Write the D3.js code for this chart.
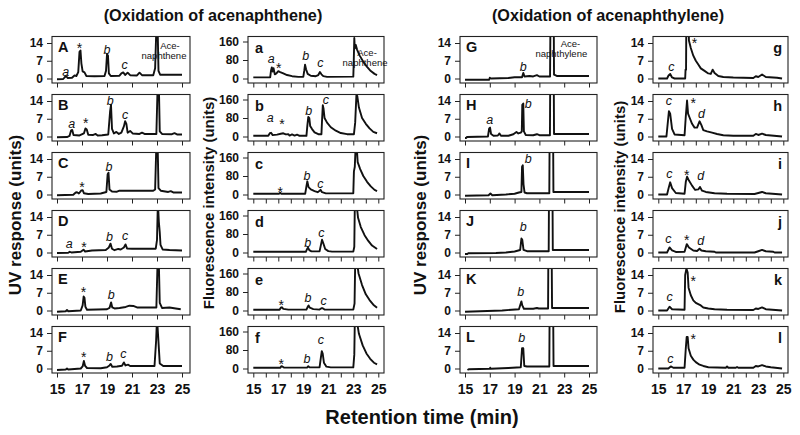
<!DOCTYPE html>
<html><head><meta charset="utf-8">
<script src="https://cdn.jsdelivr.net/npm/d3@7"></script>
<style>body{margin:0;background:#fff}svg{display:block;font-family:"Liberation Sans",Arial,Helvetica,sans-serif}</style>
</head><body><svg id="c" width="800" height="435"></svg>
<script>
// ---------- data ----------
const timeTicks = [15,17,19,21,23,25];
const timeMinor = [15,16,17,18,19,20,21,22,23,24,25];
const uvTicks = [0,7,14];
const flTicks = [0,80,160];
const titles = ["(Oxidation of acenaphthene)", "(Oxidation of acenaphthylene)"];
const yTitles = ["UV response (units)", "Fluorescence intensity (units)", "UV response (units)", "Fluorescence intensity (units)"];
const xTitle = "Retention time (min)";
const panelIds = [["A","B","C","D","E","F"],["a","b","c","d","e","f"],["G","H","I","J","K","L"],["g","h","i","j","k","l"]];

// chromatograms: [retention time (min), response]
const trA = [[15,-0.3],[15.5,-0.2],[15.6,0.4],[15.72,1.0],[15.85,0.2],[16.2,0.3],[16.4,1.2],[16.55,1.0],[16.7,2.5],[16.8,10.5],[16.88,11],[16.95,6],[17.05,2.8],[17.2,2.4],[17.35,1.0],[18,0.9],[18.8,1.0],[18.92,3],[19,9.5],[19.08,9],[19.15,2],[19.3,1.0],[20,1.1],[20.15,2],[20.3,2.4],[20.45,1.4],[20.65,2.3],[20.85,1.3],[21.4,1.2],[21.6,2.3],[21.8,1.3],[22.7,1.3],[22.85,4],[22.95,20],[23.05,20],[23.12,3],[23.25,1.5],[25,1.5]];
const trB = [[15,-0.3],[15.8,-0.2],[16,0.2],[16.12,2.3],[16.22,2.6],[16.32,0.6],[16.8,0.4],[17.15,1.2],[17.28,3.2],[17.38,2.8],[17.5,0.7],[17.9,0.6],[18.1,1.0],[18.25,0.4],[18.6,0.5],[19.1,0.8],[19.25,10],[19.32,12.5],[19.4,3],[19.55,1.2],[19.75,1.8],[19.95,1.0],[20.15,1.5],[20.35,4],[20.45,6],[20.55,5],[20.65,1.5],[20.85,2.2],[21.05,1.2],[21.6,1.0],[21.8,1.5],[22,1.0],[22.95,1.0],[23.05,20],[23.15,20],[23.22,2],[23.4,1.0],[24.2,0.9],[24.4,1.3],[24.6,0.8],[25,0.8]];
const trC = [[15,-0.3],[16.3,-0.1],[16.5,0.8],[16.6,0.9],[16.75,0.4],[16.95,1.6],[17.05,1.7],[17.15,0.5],[17.5,0.2],[18.5,0.4],[18.95,1.0],[19.05,8],[19.12,8.6],[19.2,2],[19.4,1.2],[19.8,1.1],[20,1.5],[22.7,1.5],[22.85,2],[22.95,20],[23.05,20],[23.12,2.5],[23.3,1.5],[23.9,1.0],[24.1,1.3],[24.3,0.8],[25,0.8]];
const trD = [[15,-0.2],[15.9,-0.1],[16.02,0.3],[16.15,0],[16.9,0.3],[17.12,1.1],[17.25,0.4],[17.8,0.8],[18.9,1.0],[19.15,2],[19.28,3.5],[19.4,1.5],[19.6,0.9],[19.9,1.4],[20.1,1.2],[20.35,2],[20.48,3.2],[20.6,1.6],[21,1.5],[22.9,1.5],[23,5],[23.07,20],[23.15,12],[23.22,8],[23.28,3],[23.45,1.2],[24,1.0],[25,0.8]];
const trE = [[15,-0.5],[15.7,-0.3],[15.8,0.2],[15.9,-0.3],[16.9,0],[17.05,2],[17.13,5.5],[17.2,5],[17.27,1.5],[17.4,0.3],[19,0.5],[19.2,1.0],[19.33,3.2],[19.42,1.2],[19.6,0.8],[20,1.0],[20.5,1.4],[20.8,1.9],[21.1,1.8],[21.4,1.2],[22.95,1.2],[23.05,20],[23.15,18],[23.22,3],[23.4,1.0],[24,1.2],[24.5,0.8],[24.9,0.5]];
const trF = [[15,-0.6],[15.7,-0.4],[15.8,0],[15.9,-0.4],[16.9,0],[17.05,0.8],[17.15,3],[17.25,1.0],[17.4,0.2],[18.5,0.1],[19,0.5],[19.2,1.2],[19.3,1.8],[19.42,0.7],[19.8,0.8],[20.2,1.1],[20.35,2.4],[20.48,1.2],[20.7,1.5],[20.85,1.0],[22.8,1.0],[22.93,11],[23,20],[23.1,12],[23.22,2],[23.5,1.0],[25,1.0]];
const tra = [[15,5],[16.35,5],[16.42,35],[16.48,48],[16.55,30],[16.62,45],[16.72,18],[16.85,22],[17,32],[17.15,28],[17.4,22],[17.7,15],[18.1,10],[18.6,7],[19,7],[19.08,35],[19.14,60],[19.22,40],[19.35,20],[19.6,12],[20,10],[20.2,15],[20.33,28],[20.45,18],[20.6,10],[20.9,7],[23,8],[23.03,60],[23.08,175],[23.12,130],[23.2,145],[23.3,125],[23.5,100],[23.8,72],[24.1,50],[24.4,32],[24.7,20],[24.9,15]];
const trb = [[15,3],[16.2,3],[16.32,14],[16.42,16],[16.55,6],[16.9,8],[17.2,12],[17.4,14],[17.6,9],[17.8,10],[17.9,4],[18.1,9],[18.3,4],[18.5,8],[18.7,3],[19.25,3],[19.32,45],[19.4,85],[19.48,80],[19.55,45],[19.7,32],[19.9,18],[20.2,10],[20.45,10],[20.5,70],[20.56,135],[20.62,120],[20.7,80],[20.9,60],[21.2,40],[21.6,25],[22,15],[22.5,10],[23.05,10],[23.15,60],[23.25,180],[23.32,175],[23.45,125],[23.7,80],[24,55],[24.3,35],[24.6,20],[24.9,14]];
const trc = [[15,3],[17.05,3],[17.15,7],[17.25,3],[19.15,3],[19.25,35],[19.32,57],[19.42,32],[19.6,22],[19.9,15],[20.15,10],[20.3,16],[20.38,20],[20.5,10],[20.8,5],[23,5],[23.05,100],[23.12,120],[23.18,200],[23.28,200],[23.35,140],[23.55,110],[23.8,80],[24.1,55],[24.4,35],[24.7,20],[24.9,15]];
const trd = [[15,3],[19.2,3],[19.3,15],[19.38,21],[19.48,10],[19.65,5],[20.3,5],[20.42,35],[20.5,55],[20.6,40],[20.75,15],[21,6],[21.3,4],[23,4],[23.08,25],[23.12,200],[23.28,200],[23.38,150],[23.6,110],[23.9,75],[24.2,50],[24.5,30],[24.9,15]];
const tre = [[15,3],[17.1,3],[17.2,12],[17.28,14],[17.4,7],[17.8,4],[19.25,4],[19.35,15],[19.42,22],[19.52,12],[19.8,6],[20.3,4],[20.45,10],[20.55,10],[20.7,4],[23,4],[23.1,30],[23.15,200],[23.32,200],[23.42,160],[23.7,110],[24,70],[24.3,45],[24.6,25],[24.9,12]];
const trf = [[15,3],[17.15,3],[17.25,10],[17.35,8],[17.45,4],[19.3,4],[19.4,10],[19.5,5],[20.3,5],[20.4,45],[20.48,75],[20.55,65],[20.65,25],[20.85,8],[21.2,5],[23,5],[23.08,60],[23.12,200],[23.3,200],[23.45,150],[23.75,100],[24.05,65],[24.35,42],[24.65,25],[24.9,18]];
const trG = [[15,-0.5],[16.95,-0.5],[17,0.3],[17.1,0],[18.5,0.2],[19,0.5],[19.6,0.5],[19.7,2.2],[19.8,0.8],[20.2,1.0],[20.5,0.8],[20.8,1.3],[21,0.8],[21.86,0.8],[21.9,30],[22.15,30],[22.18,1.5],[22.4,1.0],[25,1.0]];
const trH = [[15,-0.6],[15.1,-0.6],[15.15,-0.2],[16.85,0],[16.95,3.2],[17.02,3.5],[17.1,1],[17.3,0.3],[17.65,0.4],[17.78,1.2],[17.9,0.3],[18.5,0.3],[18.9,0.9],[19.15,1.8],[19.3,1.2],[19.5,1.5],[19.58,2],[19.62,12.5],[19.7,13],[19.75,2],[19.9,0.6],[20.5,0.5],[20.8,0.9],[21,0.5],[21.85,0.5],[21.88,30],[22.15,30],[22.18,1],[25,1.0]];
const trI = [[15,-0.5],[16.9,-0.3],[17.05,0.4],[17.2,-0.3],[18.3,0],[19,0.3],[19.35,0.8],[19.55,1.0],[19.6,11],[19.66,11.5],[19.72,4],[19.8,0.8],[20,0.5],[21.8,0.5],[21.83,30],[22.1,30],[22.13,1],[25,1.0]];
const trJ = [[15,-0.6],[15.2,-0.6],[15.25,-0.3],[17.5,-0.2],[18.3,0],[19,0.4],[19.45,1.0],[19.55,5.5],[19.62,5],[19.72,1],[20,0.5],[21.75,0.5],[21.78,30],[22.05,30],[22.08,1],[25,1.0]];
const trK = [[15,-0.5],[18,0],[19.35,0.5],[19.55,3.6],[19.62,2],[19.75,0.7],[20.5,0.7],[20.8,1.0],[20.95,0.8],[21.7,0.8],[21.73,30],[21.98,30],[22.02,1],[25,1.0]];
const trL = [[15.2,-0.6],[15.3,-0.3],[17,-0.1],[17.03,0.3],[17.08,-0.1],[18.5,0.2],[19.5,0.5],[19.6,8],[19.7,8],[19.78,1],[20,0.8],[21.8,0.8],[21.83,30],[22.1,30],[22.14,1],[25,1.0]];
const trg = [[15,0],[15.7,0],[15.82,1.2],[15.95,1.8],[16.1,0.4],[16.3,0],[17.15,0],[17.18,3.5],[17.22,3.5],[17.25,30],[17.4,30],[17.45,15],[17.6,12],[17.8,9],[18,7],[18.2,5.5],[18.4,4],[18.7,3],[19,2],[19.2,1.8],[19.35,3.5],[19.5,2.2],[19.8,1.0],[20.2,0.6],[21,0.4],[22.6,0.2],[22.8,0.9],[23,0.6],[23.3,1.6],[23.6,0.6],[24.5,0.3],[24.9,0]];
const trh = [[15,0],[15.65,0],[15.75,5],[15.85,10],[15.95,9],[16.1,3],[16.3,0.8],[17.1,0.5],[17.2,8],[17.3,14.2],[17.38,9],[17.5,7.5],[17.7,5],[17.9,3.5],[18.1,3.5],[18.3,6],[18.45,4.5],[18.6,2.5],[18.9,2],[19.3,1.5],[19.7,1],[20.2,0.5],[21,0.3],[22.6,0.3],[22.8,1],[23,0.6],[23.3,1.1],[23.6,0.6],[24.9,0]];
const tri = [[15,0],[15.7,0],[15.85,3],[15.95,4.8],[16.1,2.5],[16.4,0.6],[17.1,0.3],[17.2,5],[17.3,7],[17.45,5.5],[17.7,3.5],[17.95,1.8],[18.2,2],[18.33,3],[18.5,1.5],[18.8,1],[19.5,0.5],[20.5,0.3],[22.7,0.2],[23,0.6],[23.3,1],[23.6,0.5],[24.9,0]];
const trj = [[15,0],[15.7,0],[15.9,2],[16.1,0.8],[16.4,0.2],[17.1,0.3],[17.28,3.3],[17.45,2],[17.8,0.8],[18.1,0.6],[18.3,1.5],[18.45,0.8],[18.8,0.5],[19.5,0.3],[19.6,0],[22.7,0],[23,0.5],[23.3,1],[23.6,0.5],[24.2,0.3],[24.3,0],[24.9,0]];
const trk = [[15,0],[15.7,0],[15.9,1.5],[16.1,0.5],[17.1,0.3],[17.15,14],[17.25,16.5],[17.35,15],[17.42,9],[17.6,6],[17.8,4],[18,3],[18.2,2.5],[18.4,2],[18.6,1.2],[19,0.8],[19.5,0.5],[20.5,0.3],[22.6,0.2],[22.8,0.8],[23,0.6],[23.3,1.2],[23.6,0.5],[24.9,0]];
const trl = [[15,0],[15.8,0],[16,0.8],[16.2,0.3],[17.1,0.3],[17.2,8],[17.27,12.4],[17.35,12.4],[17.42,8],[17.6,5],[17.8,3.5],[18,2.5],[18.3,1.5],[18.6,1.0],[19,0.5],[20.4,0.3],[20.5,0.8],[20.6,0.3],[21.2,0.3],[21.3,0.6],[21.4,0.3],[22.6,0.3],[22.8,1],[23,0.8],[23.3,1.3],[23.6,0.8],[24,0.5],[24.9,0]];

// peak annotations: [text, time, response at label centre]
const labA = [["a",15.69,2.45],["*",16.8,13.2],["b",19.0,11.55],["c",20.4,5.0],["Ace-",24.04,12.9,"n"],["naphthene",23.56,8.9,"n"]];
const labB = [["a",16.17,4.7],["*",17.3,6.4],["b",19.25,14.2],["c",20.45,8.3]];
const labC = [["*",17.0,4.2],["b",19.15,10.9]];
const labD = [["a",15.98,3.2],["*",17.15,3.5],["b",19.2,6.2],["c",20.45,6.2]];
const labE = [["*",17.12,8.4],["b",19.34,6.2]];
const labF = [["*",17.14,5.8],["b",19.2,4.8],["c",20.3,5.6]];
const laba = [["a",16.44,79],["*",17.03,59],["b",19.2,101],["c",20.36,62],["Ace-",24.1,108,"n"],["naphthene",23.94,65,"n"]];
const labb = [["a",16.36,76],["*",17.3,69],["b",19.43,114],["c",20.8,153]];
const labc = [["*",17.16,23],["b",19.3,83],["c",20.36,41]];
const labd = [["b",19.35,42],["c",20.45,80]];
const labe = [["*",17.24,38],["b",19.37,56],["c",20.63,38]];
const labf = [["*",17.24,32],["b",19.3,42],["c",20.4,119]];
const labG = [["b",19.7,4.7],["Ace-",23.5,13.6,"n"],["naphthylene",22.77,9.6,"n"]];
const labH = [["a",17.0,6.4],["b",20.1,12.9]];
const labI = [["b",20.1,14.2]];
const labJ = [["b",19.7,10.1]];
const labK = [["b",19.5,7.5]];
const labL = [["b",19.57,12.3]];
const labg = [["c",16.05,4.2],["*",17.9,15]];
const labh = [["c",15.85,13.6],["*",17.8,14.2],["d",18.45,9.0]];
const labi = [["c",15.88,7.7],["*",17.27,9.0],["d",18.4,7.3]];
const labj = [["c",15.8,5.1],["*",17.27,6.2],["d",18.4,4.9]];
const labk = [["c",15.9,5.2],["*",17.8,13]];
const labl = [["c",15.97,3.5],["*",17.8,13]];

const traces = [[trA,trB,trC,trD,trE,trF],[tra,trb,trc,trd,tre,trf],[trG,trH,trI,trJ,trK,trL],[trg,trh,tri,trj,trk,trl]];
const labels = [[labA,labB,labC,labD,labE,labF],[laba,labb,labc,labd,labe,labf],[labG,labH,labI,labJ,labK,labL],[labg,labh,labi,labj,labk,labl]];

// ---------- layout ----------
const svg = d3.select("#c");
const cols = [
  {left:52, right:190, x0:57, x1:182, yMax:14, top:6.5, minor:false, letterRight:false, titleX:21, titleY:215, titleFs:17},
  {left:248, right:384, x0:253.3, x1:378.3, yMax:160, top:5, minor:true, letterRight:false, titleX:214, titleY:203, titleFs:15},
  {left:460, right:597, x0:465, x1:589, yMax:14, top:6.5, minor:false, letterRight:false, titleX:426, titleY:215, titleFs:17},
  {left:653, right:788, x0:658.3, x1:783.3, yMax:14, top:6.5, minor:true, letterRight:true, titleX:625, titleY:207, titleFs:15}
];
const yTickSets = [uvTicks, flTicks, uvTicks, uvTicks];
const rowTops = [36.5, 94.5, 152.5, 210.5, 268.5, 326.5];
const PH = 46.5;
const line = d3.line();
const FONT = "Liberation Sans, Arial, sans-serif";

cols.forEach((c, ci) => {
  const x = d3.scaleLinear().domain([15,25]).range([c.x0, c.x1]);
  rowTops.forEach((T, ri) => {
    const y = d3.scaleLinear().domain([0, c.yMax]).range([T+42, T+c.top]);
    const g = svg.append("g");
    const cid = `clip${ci}_${ri}`;
    g.append("clipPath").attr("id", cid).append("rect")
      .attr("x", c.left).attr("y", T).attr("width", c.right-c.left).attr("height", PH);
    g.append("path").attr("clip-path", `url(#${cid})`)
      .attr("d", line(traces[ci][ri].map(d => [x(d[0]), y(d[1])])))
      .attr("fill","none").attr("stroke","#111").attr("stroke-width",1.9).attr("stroke-linejoin","round");
    g.append("rect").attr("x", c.left).attr("y", T).attr("width", c.right-c.left).attr("height", PH)
      .attr("fill","none").attr("stroke","#222").attr("stroke-width",1.1);
    const ya = d3.axisLeft(y).tickValues(yTickSets[ci]).tickSize(5).tickPadding(4).tickFormat(d3.format("d"));
    const yg = g.append("g").attr("transform", `translate(${c.left},0)`).call(ya);
    yg.select(".domain").remove();
    yg.selectAll("text").attr("font-size", 12).attr("font-weight","bold").attr("fill","#111").attr("font-family", FONT);
    yg.selectAll("line").attr("stroke","#222");
    const xa = d3.axisBottom(x).tickValues(c.minor ? timeMinor : timeTicks).tickSize(4.5).tickPadding(6.5)
      .tickFormat(ri === 5 ? (d => timeTicks.includes(d) ? d : "") : "");
    const xg = g.append("g").attr("transform", `translate(0,${T+PH})`).call(xa);
    xg.select(".domain").remove();
    xg.selectAll("line").attr("stroke","#222");
    xg.selectAll("text").attr("font-size", 14).attr("font-weight","bold").attr("fill","#111").attr("font-family", FONT);
    g.append("text").text(panelIds[ci][ri])
      .attr("x", c.letterRight ? c.right-6 : c.left+(ci===1?7:6))
      .attr("y", T + (ci%2===1 ? 16 : 15))
      .attr("text-anchor", c.letterRight ? "end" : "start")
      .attr("font-size", 14.5).attr("font-weight","bold").attr("fill","#111");
    labels[ci][ri].forEach(l => {
      const t = g.append("text").text(l[0]).attr("x", x(l[1])).attr("y", y(l[2]))
        .attr("text-anchor","middle").attr("fill","#111");
      if (l[3] === "n") t.attr("font-size", 9.5).attr("dy","0.3em");
      else if (l[0] === "*") t.attr("font-size", 14).attr("dy","0.57em");
      else t.attr("font-size", 12.5).attr("font-style","italic")
        .attr("dy", (l[0]==="b"||l[0]==="d") ? "0.36em" : "0.26em");
    });
  });
  svg.append("text").text(yTitles[ci])
    .attr("transform", `translate(${c.titleX},${c.titleY}) rotate(-90)`)
    .attr("text-anchor","middle").attr("font-size", c.titleFs).attr("font-weight","bold").attr("fill","#111");
});

svg.append("text").text(titles[0]).attr("x", 213).attr("y", 21).attr("text-anchor","middle")
  .attr("font-size", 16.2).attr("font-weight","bold").attr("fill","#111");
svg.append("text").text(titles[1]).attr("x", 608).attr("y", 21).attr("text-anchor","middle")
  .attr("font-size", 16.2).attr("font-weight","bold").attr("fill","#111");
svg.append("text").text(xTitle).attr("x", 422).attr("y", 424).attr("text-anchor","middle")
  .attr("font-size", 20).attr("font-weight","bold").attr("fill","#111");
</script></body></html>
